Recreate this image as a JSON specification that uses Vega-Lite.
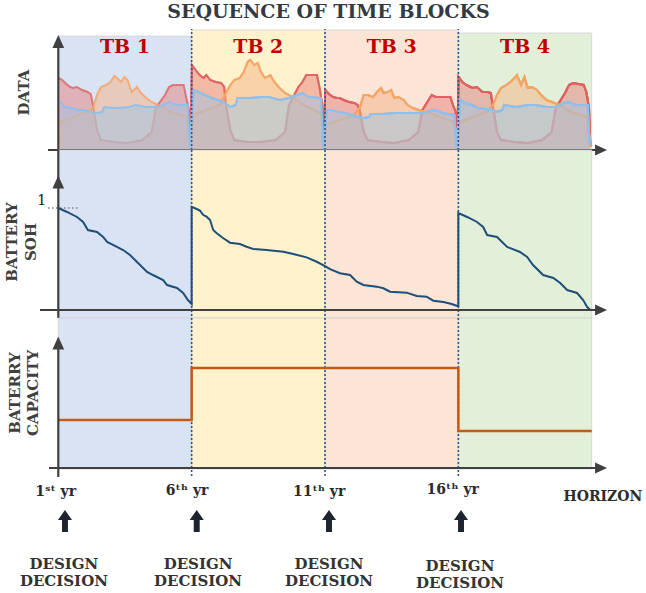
{
"$schema":"https://vega.github.io/schema/vega-lite/v6.json",
"padding":0,
"spacing":0,
"bounds":"flush",
"background":"white",
"config":{"view":{"stroke":null},"text":{"font":"DejaVu Serif","fontWeight":"bold"}},
"datasets":{
"blocks":[{"tb":"TB 1","x":1,"x2":6,"top":114},{"tb":"TB 2","x":6,"x2":11,"top":120},{"tb":"TB 3","x":11,"x2":16,"top":120},{"tb":"TB 4","x":16,"x2":21,"top":117}],
"dec":[{"x":6},{"x":11},{"x":16}],
"red":[
{"b":1,"x":1.01,"v":72},{"b":1,"x":1.15,"v":70},{"b":1,"x":1.3,"v":66},{"b":1,"x":1.45,"v":63},{"b":1,"x":1.55,"v":62},{"b":1,"x":1.7,"v":63},{"b":1,"x":1.9,"v":60},{"b":1,"x":2.1,"v":58},{"b":1,"x":2.22,"v":56},{"b":1,"x":2.3,"v":45},{"b":1,"x":2.45,"v":20},{"b":1,"x":2.6,"v":10},{"b":1,"x":3.1,"v":8},{"b":1,"x":3.6,"v":7},{"b":1,"x":4.15,"v":10},{"b":1,"x":4.5,"v":18},{"b":1,"x":4.65,"v":42},{"b":1,"x":5.0,"v":55},{"b":1,"x":5.15,"v":63},{"b":1,"x":5.3,"v":65},{"b":1,"x":5.7,"v":65},{"b":1,"x":5.8,"v":52},{"b":1,"x":5.9,"v":40},{"b":1,"x":5.95,"v":3},
{"b":2,"x":6.01,"v":85},{"b":2,"x":6.15,"v":80},{"b":2,"x":6.3,"v":75},{"b":2,"x":6.45,"v":72},{"b":2,"x":6.55,"v":75},{"b":2,"x":6.7,"v":70},{"b":2,"x":6.9,"v":68},{"b":2,"x":7.1,"v":67},{"b":2,"x":7.22,"v":63},{"b":2,"x":7.3,"v":42},{"b":2,"x":7.45,"v":20},{"b":2,"x":7.6,"v":10},{"b":2,"x":8.1,"v":8},{"b":2,"x":8.6,"v":8},{"b":2,"x":9.15,"v":10},{"b":2,"x":9.5,"v":18},{"b":2,"x":9.65,"v":45},{"b":2,"x":10.0,"v":63},{"b":2,"x":10.15,"v":68},{"b":2,"x":10.3,"v":75},{"b":2,"x":10.7,"v":75},{"b":2,"x":10.8,"v":62},{"b":2,"x":10.9,"v":45},{"b":2,"x":10.95,"v":3},
{"b":3,"x":11.01,"v":60},{"b":3,"x":11.15,"v":56},{"b":3,"x":11.3,"v":53},{"b":3,"x":11.45,"v":52},{"b":3,"x":11.55,"v":52},{"b":3,"x":11.7,"v":50},{"b":3,"x":11.9,"v":48},{"b":3,"x":12.1,"v":47},{"b":3,"x":12.22,"v":45},{"b":3,"x":12.3,"v":40},{"b":3,"x":12.45,"v":18},{"b":3,"x":12.6,"v":10},{"b":3,"x":13.1,"v":8},{"b":3,"x":13.6,"v":7},{"b":3,"x":14.15,"v":10},{"b":3,"x":14.5,"v":18},{"b":3,"x":14.65,"v":40},{"b":3,"x":15.0,"v":55},{"b":3,"x":15.15,"v":53},{"b":3,"x":15.3,"v":53},{"b":3,"x":15.7,"v":53},{"b":3,"x":15.8,"v":45},{"b":3,"x":15.9,"v":38},{"b":3,"x":15.95,"v":3},
{"b":4,"x":16.01,"v":73},{"b":4,"x":16.15,"v":68},{"b":4,"x":16.3,"v":65},{"b":4,"x":16.45,"v":63},{"b":4,"x":16.55,"v":62},{"b":4,"x":16.7,"v":63},{"b":4,"x":16.9,"v":58},{"b":4,"x":17.1,"v":58},{"b":4,"x":17.22,"v":57},{"b":4,"x":17.3,"v":42},{"b":4,"x":17.45,"v":18},{"b":4,"x":17.6,"v":10},{"b":4,"x":18.1,"v":8},{"b":4,"x":18.6,"v":7},{"b":4,"x":19.15,"v":10},{"b":4,"x":19.5,"v":18},{"b":4,"x":19.65,"v":42},{"b":4,"x":20.0,"v":57},{"b":4,"x":20.15,"v":65},{"b":4,"x":20.3,"v":67},{"b":4,"x":20.7,"v":65},{"b":4,"x":20.8,"v":58},{"b":4,"x":20.9,"v":42},{"b":4,"x":20.95,"v":3}],
"orange":[
{"b":1,"x":1.05,"v":28},{"b":1,"x":1.55,"v":33},{"b":1,"x":2.05,"v":38},{"b":1,"x":2.3,"v":42},{"b":1,"x":2.45,"v":55},{"b":1,"x":2.6,"v":63},{"b":1,"x":2.8,"v":65},{"b":1,"x":2.95,"v":68},{"b":1,"x":3.1,"v":74},{"b":1,"x":3.2,"v":72},{"b":1,"x":3.35,"v":68},{"b":1,"x":3.48,"v":73},{"b":1,"x":3.6,"v":70},{"b":1,"x":3.75,"v":58},{"b":1,"x":3.95,"v":63},{"b":1,"x":4.1,"v":57},{"b":1,"x":4.3,"v":52},{"b":1,"x":4.5,"v":48},{"b":1,"x":4.8,"v":44},{"b":1,"x":5.2,"v":38},{"b":1,"x":5.6,"v":35},{"b":1,"x":5.85,"v":32},{"b":1,"x":5.95,"v":3},
{"b":2,"x":6.05,"v":35},{"b":2,"x":6.55,"v":40},{"b":2,"x":7.05,"v":45},{"b":2,"x":7.3,"v":58},{"b":2,"x":7.45,"v":65},{"b":2,"x":7.6,"v":70},{"b":2,"x":7.8,"v":72},{"b":2,"x":7.95,"v":78},{"b":2,"x":8.1,"v":88},{"b":2,"x":8.2,"v":90},{"b":2,"x":8.35,"v":85},{"b":2,"x":8.48,"v":87},{"b":2,"x":8.6,"v":78},{"b":2,"x":8.75,"v":72},{"b":2,"x":8.95,"v":75},{"b":2,"x":9.1,"v":68},{"b":2,"x":9.3,"v":62},{"b":2,"x":9.5,"v":57},{"b":2,"x":9.8,"v":53},{"b":2,"x":10.2,"v":45},{"b":2,"x":10.6,"v":40},{"b":2,"x":10.85,"v":36},{"b":2,"x":10.95,"v":3},
{"b":3,"x":11.05,"v":25},{"b":3,"x":11.55,"v":30},{"b":3,"x":12.05,"v":34},{"b":3,"x":12.3,"v":42},{"b":3,"x":12.45,"v":55},{"b":3,"x":12.6,"v":55},{"b":3,"x":12.8,"v":53},{"b":3,"x":12.95,"v":58},{"b":3,"x":13.1,"v":62},{"b":3,"x":13.2,"v":57},{"b":3,"x":13.35,"v":58},{"b":3,"x":13.48,"v":60},{"b":3,"x":13.6,"v":52},{"b":3,"x":13.75,"v":53},{"b":3,"x":13.95,"v":50},{"b":3,"x":14.1,"v":45},{"b":3,"x":14.3,"v":42},{"b":3,"x":14.5,"v":40},{"b":3,"x":14.8,"v":38},{"b":3,"x":15.2,"v":34},{"b":3,"x":15.6,"v":30},{"b":3,"x":15.85,"v":28},{"b":3,"x":15.95,"v":3},
{"b":4,"x":16.05,"v":28},{"b":4,"x":16.55,"v":33},{"b":4,"x":17.05,"v":38},{"b":4,"x":17.3,"v":45},{"b":4,"x":17.45,"v":55},{"b":4,"x":17.6,"v":62},{"b":4,"x":17.8,"v":65},{"b":4,"x":17.95,"v":68},{"b":4,"x":18.1,"v":72},{"b":4,"x":18.2,"v":75},{"b":4,"x":18.35,"v":65},{"b":4,"x":18.48,"v":73},{"b":4,"x":18.6,"v":62},{"b":4,"x":18.75,"v":63},{"b":4,"x":18.95,"v":60},{"b":4,"x":19.1,"v":55},{"b":4,"x":19.3,"v":50},{"b":4,"x":19.5,"v":48},{"b":4,"x":19.8,"v":45},{"b":4,"x":20.2,"v":38},{"b":4,"x":20.6,"v":35},{"b":4,"x":20.85,"v":32},{"b":4,"x":20.95,"v":3}],
"blue":[
{"b":1,"x":1.08,"v":48},{"b":1,"x":1.25,"v":43},{"b":1,"x":1.5,"v":42},{"b":1,"x":1.75,"v":40},{"b":1,"x":2.0,"v":40},{"b":1,"x":2.25,"v":38},{"b":1,"x":2.45,"v":37},{"b":1,"x":2.65,"v":38},{"b":1,"x":2.72,"v":43},{"b":1,"x":3.15,"v":42},{"b":1,"x":3.65,"v":43},{"b":1,"x":3.9,"v":45},{"b":1,"x":4.3,"v":43},{"b":1,"x":4.65,"v":43},{"b":1,"x":4.95,"v":45},{"b":1,"x":5.15,"v":48},{"b":1,"x":5.4,"v":45},{"b":1,"x":5.85,"v":45},{"b":1,"x":5.92,"v":5},
{"b":2,"x":6.08,"v":60},{"b":2,"x":6.25,"v":58},{"b":2,"x":6.5,"v":55},{"b":2,"x":6.75,"v":52},{"b":2,"x":7.0,"v":50},{"b":2,"x":7.25,"v":47},{"b":2,"x":7.45,"v":43},{"b":2,"x":7.65,"v":45},{"b":2,"x":7.72,"v":52},{"b":2,"x":8.15,"v":52},{"b":2,"x":8.65,"v":53},{"b":2,"x":8.9,"v":53},{"b":2,"x":9.3,"v":50},{"b":2,"x":9.65,"v":52},{"b":2,"x":9.95,"v":55},{"b":2,"x":10.15,"v":57},{"b":2,"x":10.4,"v":53},{"b":2,"x":10.85,"v":52},{"b":2,"x":10.92,"v":5},
{"b":3,"x":11.08,"v":40},{"b":3,"x":11.25,"v":40},{"b":3,"x":11.5,"v":38},{"b":3,"x":11.75,"v":37},{"b":3,"x":12.0,"v":35},{"b":3,"x":12.25,"v":33},{"b":3,"x":12.45,"v":32},{"b":3,"x":12.65,"v":33},{"b":3,"x":12.72,"v":36},{"b":3,"x":13.15,"v":36},{"b":3,"x":13.65,"v":37},{"b":3,"x":13.9,"v":37},{"b":3,"x":14.3,"v":37},{"b":3,"x":14.65,"v":37},{"b":3,"x":14.95,"v":39},{"b":3,"x":15.15,"v":40},{"b":3,"x":15.4,"v":37},{"b":3,"x":15.85,"v":35},{"b":3,"x":15.92,"v":5},
{"b":4,"x":16.08,"v":50},{"b":4,"x":16.25,"v":47},{"b":4,"x":16.5,"v":45},{"b":4,"x":16.75,"v":42},{"b":4,"x":17.0,"v":41},{"b":4,"x":17.25,"v":40},{"b":4,"x":17.45,"v":38},{"b":4,"x":17.65,"v":40},{"b":4,"x":17.72,"v":45},{"b":4,"x":18.15,"v":43},{"b":4,"x":18.65,"v":45},{"b":4,"x":18.9,"v":45},{"b":4,"x":19.3,"v":43},{"b":4,"x":19.65,"v":43},{"b":4,"x":19.95,"v":47},{"b":4,"x":20.15,"v":48},{"b":4,"x":20.4,"v":45},{"b":4,"x":20.85,"v":45},{"b":4,"x":20.92,"v":5}],
"soh":[
{"i":1,"x":1.0,"y":1.0},{"i":2,"x":1.33,"y":0.961},{"i":3,"x":1.7,"y":0.912},{"i":4,"x":1.93,"y":0.863},{"i":5,"x":2.11,"y":0.784},{"i":6,"x":2.45,"y":0.765},{"i":7,"x":2.68,"y":0.716},{"i":8,"x":2.83,"y":0.667},{"i":9,"x":3.2,"y":0.618},{"i":10,"x":3.43,"y":0.588},{"i":11,"x":3.69,"y":0.539},{"i":12,"x":3.95,"y":0.471},{"i":13,"x":4.33,"y":0.373},{"i":14,"x":4.55,"y":0.343},{"i":15,"x":4.93,"y":0.294},{"i":16,"x":5.08,"y":0.245},{"i":17,"x":5.45,"y":0.216},{"i":18,"x":5.68,"y":0.167},{"i":19,"x":5.86,"y":0.098},{"i":20,"x":6.0,"y":0.059},
{"i":21,"x":6.0,"y":1.01},{"i":22,"x":6.06,"y":1.005},{"i":23,"x":6.19,"y":0.99},{"i":24,"x":6.31,"y":0.975},{"i":25,"x":6.44,"y":0.931},{"i":26,"x":6.56,"y":0.915},{"i":27,"x":6.69,"y":0.882},{"i":28,"x":6.81,"y":0.784},{"i":29,"x":6.94,"y":0.752},{"i":30,"x":7.19,"y":0.703},{"i":31,"x":7.44,"y":0.66},{"i":32,"x":7.81,"y":0.647},{"i":33,"x":8.06,"y":0.62},{"i":34,"x":8.31,"y":0.598},{"i":35,"x":8.81,"y":0.588},{"i":36,"x":9.44,"y":0.571},{"i":37,"x":9.81,"y":0.549},{"i":38,"x":10.31,"y":0.516},{"i":39,"x":10.69,"y":0.473},{"i":40,"x":11.0,"y":0.43},{"i":41,"x":11.19,"y":0.4},{"i":42,"x":11.56,"y":0.36},{"i":43,"x":11.94,"y":0.343},{"i":44,"x":12.19,"y":0.277},{"i":45,"x":12.44,"y":0.245},{"i":46,"x":12.94,"y":0.229},{"i":47,"x":13.19,"y":0.213},{"i":48,"x":13.44,"y":0.18},{"i":49,"x":14.06,"y":0.17},{"i":50,"x":14.44,"y":0.137},{"i":51,"x":14.81,"y":0.131},{"i":52,"x":15.06,"y":0.091},{"i":53,"x":15.44,"y":0.078},{"i":54,"x":15.75,"y":0.059},{"i":55,"x":15.96,"y":0.039},{"i":56,"x":16.0,"y":0.039},
{"i":57,"x":16.0,"y":0.951},{"i":58,"x":16.33,"y":0.912},{"i":59,"x":16.7,"y":0.863},{"i":60,"x":16.93,"y":0.814},{"i":61,"x":17.08,"y":0.735},{"i":62,"x":17.45,"y":0.716},{"i":63,"x":17.83,"y":0.618},{"i":64,"x":18.31,"y":0.569},{"i":65,"x":18.58,"y":0.52},{"i":66,"x":18.8,"y":0.441},{"i":67,"x":19.18,"y":0.343},{"i":68,"x":19.56,"y":0.314},{"i":69,"x":19.82,"y":0.265},{"i":70,"x":20.08,"y":0.196},{"i":71,"x":20.45,"y":0.167},{"i":72,"x":20.68,"y":0.098},{"i":73,"x":20.83,"y":0.029},{"i":74,"x":20.95,"y":0.0}],
"cap":[{"x":1,"y":48},{"x":6,"y":100},{"x":16,"y":37},{"x":21,"y":37}]
},
"vconcat":[
{"width":646,"height":150,"layer":[
{"data":{"name":"blocks"},"mark":{"type":"rect","stroke":"#d0d0d0","strokeWidth":0.8},"encoding":{
"x":{"field":"x","type":"quantitative","scale":{"domain":[-1.186,23.036],"nice":false,"zero":false},"axis":null},
"x2":{"field":"x2"},
"y":{"field":"top","type":"quantitative","scale":{"domain":[0,150],"nice":false,"zero":false},"axis":null},
"y2":{"datum":0},
"color":{"field":"tb","type":"nominal","scale":{"domain":["TB 1","TB 2","TB 3","TB 4"],"range":["#dae3f3","#fff2cc","#fbe5d6","#e2f0d9"]},"legend":null}}},
{"data":{"name":"red"},"mark":{"type":"area","color":"#e57373","fillOpacity":0.45,"line":{"color":"#e06060","strokeWidth":2,"opacity":0.8}},"encoding":{
"x":{"field":"x","type":"quantitative","scale":{"domain":[-1.186,23.036],"nice":false,"zero":false},"axis":null},
"y":{"field":"v","type":"quantitative","scale":{"domain":[0,150],"nice":false,"zero":false},"axis":null},
"detail":{"field":"b"}}},
{"data":{"name":"orange"},"mark":{"type":"area","color":"#f4b183","fillOpacity":0.5,"line":{"color":"#f4a466","strokeWidth":2,"opacity":0.85}},"encoding":{
"x":{"field":"x","type":"quantitative","scale":{"domain":[-1.186,23.036],"nice":false,"zero":false},"axis":null},
"y":{"field":"v","type":"quantitative","scale":{"domain":[0,150],"nice":false,"zero":false},"axis":null},
"detail":{"field":"b"}}},
{"data":{"name":"blue"},"mark":{"type":"area","color":"#9dc3e6","fillOpacity":0.5,"line":{"color":"#8fbfea","strokeWidth":2,"opacity":0.95}},"encoding":{
"x":{"field":"x","type":"quantitative","scale":{"domain":[-1.186,23.036],"nice":false,"zero":false},"axis":null},
"y":{"field":"v","type":"quantitative","scale":{"domain":[0,150],"nice":false,"zero":false},"axis":null},
"detail":{"field":"b"}}},
{"data":{"name":"dec"},"mark":{"type":"rule","color":"#2f5597","strokeWidth":1.6,"strokeDash":[2,2]},"encoding":{
"x":{"field":"x","type":"quantitative","scale":{"domain":[-1.186,23.036],"nice":false,"zero":false},"axis":null},
"y":{"datum":0,"type":"quantitative","scale":{"domain":[0,150],"nice":false,"zero":false},"axis":null},
"y2":{"datum":121}}},
{"data":{"values":[{"x":1,"x2":1,"y":0,"y2":108.5},{"x":0.614,"x2":21.35,"y":0,"y2":0}]},"mark":{"type":"rule","color":"#404040","strokeWidth":2.2},"encoding":{
"x":{"field":"x","type":"quantitative","scale":{"domain":[-1.186,23.036],"nice":false,"zero":false},"axis":null},
"x2":{"field":"x2"},
"y":{"field":"y","type":"quantitative","scale":{"domain":[0,150],"nice":false,"zero":false},"axis":null},
"y2":{"field":"y2"}}},
{"data":{"values":[{"x":1,"y":108.5}]},"mark":{"type":"point","filled":true,"color":"#404040","opacity":1,"size":169,"shape":"M0,-1L0.9,1L-0.9,1Z","strokeWidth":0},"encoding":{
"x":{"field":"x","type":"quantitative","scale":{"domain":[-1.186,23.036],"nice":false,"zero":false},"axis":null},
"y":{"field":"y","type":"quantitative","scale":{"domain":[0,150],"nice":false,"zero":false},"axis":null}}},
{"data":{"values":[{"x":21.35,"y":0}]},"mark":{"type":"point","filled":true,"color":"#404040","opacity":1,"size":144,"shape":"M1,0L-1,-0.9L-1,0.9Z","strokeWidth":0},"encoding":{
"x":{"field":"x","type":"quantitative","scale":{"domain":[-1.186,23.036],"nice":false,"zero":false},"axis":null},
"y":{"field":"y","type":"quantitative","scale":{"domain":[0,150],"nice":false,"zero":false},"axis":null}}},
{"data":{"values":[{"x":11.13,"y":138,"t":"SEQUENCE OF TIME BLOCKS"}]},"mark":{"type":"text","fontSize":19,"color":"#333a44","align":"center","baseline":"middle"},"encoding":{
"x":{"field":"x","type":"quantitative","scale":{"domain":[-1.186,23.036],"nice":false,"zero":false},"axis":null},
"y":{"field":"y","type":"quantitative","scale":{"domain":[0,150],"nice":false,"zero":false},"axis":null},
"text":{"field":"t"}}},
{"data":{"values":[{"x":3.5,"y":103,"t":"TB 1"},{"x":8.5,"y":103,"t":"TB 2"},{"x":13.5,"y":103,"t":"TB 3"},{"x":18.5,"y":103,"t":"TB 4"}]},"mark":{"type":"text","fontSize":19,"color":"#c00000","align":"center","baseline":"middle"},"encoding":{
"x":{"field":"x","type":"quantitative","scale":{"domain":[-1.186,23.036],"nice":false,"zero":false},"axis":null},
"y":{"field":"y","type":"quantitative","scale":{"domain":[0,150],"nice":false,"zero":false},"axis":null},
"text":{"field":"t"}}},
{"data":{"values":[{"x":-0.28,"y":57.5,"t":"DATA"}]},"mark":{"type":"text","fontSize":15,"color":"#404040","align":"center","baseline":"middle","angle":270},"encoding":{
"x":{"field":"x","type":"quantitative","scale":{"domain":[-1.186,23.036],"nice":false,"zero":false},"axis":null},
"y":{"field":"y","type":"quantitative","scale":{"domain":[0,150],"nice":false,"zero":false},"axis":null},
"text":{"field":"t"}}}
]},
{"width":646,"height":168,"layer":[
{"data":{"name":"blocks"},"mark":{"type":"rect","stroke":"#d0d0d0","strokeWidth":0.8},"encoding":{
"x":{"field":"x","type":"quantitative","scale":{"domain":[-1.186,23.036],"nice":false,"zero":false},"axis":null},
"x2":{"field":"x2"},
"color":{"field":"tb","type":"nominal","scale":{"domain":["TB 1","TB 2","TB 3","TB 4"],"range":["#dae3f3","#fff2cc","#fbe5d6","#e2f0d9"]},"legend":null}}},
{"data":{"name":"dec"},"mark":{"type":"rule","color":"#2f5597","strokeWidth":1.6,"strokeDash":[2,2]},"encoding":{
"x":{"field":"x","type":"quantitative","scale":{"domain":[-1.186,23.036],"nice":false,"zero":false},"axis":null}}},
{"data":{"values":[{"x":0.614,"x2":1.814,"y":1}]},"mark":{"type":"rule","color":"#808080","strokeWidth":1.5,"strokeDash":[1.5,2.5]},"encoding":{
"x":{"field":"x","type":"quantitative","scale":{"domain":[-1.186,23.036],"nice":false,"zero":false},"axis":null},
"x2":{"field":"x2"},
"y":{"field":"y","type":"quantitative","scale":{"domain":[-0.0784,1.5686],"nice":false,"zero":false},"axis":null}}},
{"data":{"name":"soh"},"mark":{"type":"line","color":"#1f4e79","strokeWidth":2},"encoding":{
"x":{"field":"x","type":"quantitative","scale":{"domain":[-1.186,23.036],"nice":false,"zero":false},"axis":null},
"y":{"field":"y","type":"quantitative","scale":{"domain":[-0.0784,1.5686],"nice":false,"zero":false},"axis":null},
"order":{"field":"i","type":"quantitative"}}},
{"data":{"values":[{"x":1,"x2":1,"y":-0.0784,"y2":1.5686},{"x":0.314,"x2":21.35,"y":0,"y2":0}]},"mark":{"type":"rule","color":"#404040","strokeWidth":2.2},"encoding":{
"x":{"field":"x","type":"quantitative","scale":{"domain":[-1.186,23.036],"nice":false,"zero":false},"axis":null},
"x2":{"field":"x2"},
"y":{"field":"y","type":"quantitative","scale":{"domain":[-0.0784,1.5686],"nice":false,"zero":false},"axis":null},
"y2":{"field":"y2"}}},
{"data":{"values":[{"x":1,"y":1.255}]},"mark":{"type":"point","filled":true,"color":"#404040","opacity":1,"size":169,"shape":"M0,-1L0.9,1L-0.9,1Z","strokeWidth":0},"encoding":{
"x":{"field":"x","type":"quantitative","scale":{"domain":[-1.186,23.036],"nice":false,"zero":false},"axis":null},
"y":{"field":"y","type":"quantitative","scale":{"domain":[-0.0784,1.5686],"nice":false,"zero":false},"axis":null}}},
{"data":{"values":[{"x":21.35,"y":0}]},"mark":{"type":"point","filled":true,"color":"#404040","opacity":1,"size":144,"shape":"M1,0L-1,-0.9L-1,0.9Z","strokeWidth":0},"encoding":{
"x":{"field":"x","type":"quantitative","scale":{"domain":[-1.186,23.036],"nice":false,"zero":false},"axis":null},
"y":{"field":"y","type":"quantitative","scale":{"domain":[-0.0784,1.5686],"nice":false,"zero":false},"axis":null}}},
{"data":{"values":[{"x":0.377,"y":1.069,"t":"1"}]},"mark":{"type":"text","fontSize":14,"fontWeight":"normal","color":"#111111","align":"center","baseline":"middle"},"encoding":{
"x":{"field":"x","type":"quantitative","scale":{"domain":[-1.186,23.036],"nice":false,"zero":false},"axis":null},
"y":{"field":"y","type":"quantitative","scale":{"domain":[-0.0784,1.5686],"nice":false,"zero":false},"axis":null},
"text":{"field":"t"}}},
{"data":{"values":[{"x":-0.72,"y":0.667,"t":"BATTERY"},{"x":-0.02,"y":0.667,"t":"SOH"}]},"mark":{"type":"text","fontSize":15,"color":"#404040","align":"center","baseline":"middle","angle":270},"encoding":{
"x":{"field":"x","type":"quantitative","scale":{"domain":[-1.186,23.036],"nice":false,"zero":false},"axis":null},
"y":{"field":"y","type":"quantitative","scale":{"domain":[-0.0784,1.5686],"nice":false,"zero":false},"axis":null},
"text":{"field":"t"}}}
]},
{"width":646,"height":160,"layer":[
{"data":{"name":"blocks"},"mark":{"type":"rect","stroke":"#d0d0d0","strokeWidth":0.8},"encoding":{
"x":{"field":"x","type":"quantitative","scale":{"domain":[-1.186,23.036],"nice":false,"zero":false},"axis":null},
"x2":{"field":"x2"},
"y":{"datum":-1,"type":"quantitative","scale":{"domain":[-10,150],"nice":false,"zero":false},"axis":null},
"y2":{"datum":150},
"color":{"field":"tb","type":"nominal","scale":{"domain":["TB 1","TB 2","TB 3","TB 4"],"range":["#dae3f3","#fff2cc","#fbe5d6","#e2f0d9"]},"legend":null}}},
{"data":{"name":"dec"},"mark":{"type":"rule","color":"#2f5597","strokeWidth":1.6,"strokeDash":[2,2]},"encoding":{
"x":{"field":"x","type":"quantitative","scale":{"domain":[-1.186,23.036],"nice":false,"zero":false},"axis":null},
"y":{"datum":-8,"type":"quantitative","scale":{"domain":[-10,150],"nice":false,"zero":false},"axis":null},
"y2":{"datum":150}}},
{"data":{"name":"cap"},"mark":{"type":"line","color":"#c55a11","strokeWidth":2.5,"interpolate":"step-after"},"encoding":{
"x":{"field":"x","type":"quantitative","scale":{"domain":[-1.186,23.036],"nice":false,"zero":false},"axis":null},
"y":{"field":"y","type":"quantitative","scale":{"domain":[-10,150],"nice":false,"zero":false},"axis":null}}},
{"data":{"values":[{"x":1,"x2":1,"y":-9,"y2":125},{"x":0.651,"x2":21.35,"y":0,"y2":0}]},"mark":{"type":"rule","color":"#404040","strokeWidth":2.2},"encoding":{
"x":{"field":"x","type":"quantitative","scale":{"domain":[-1.186,23.036],"nice":false,"zero":false},"axis":null},
"x2":{"field":"x2"},
"y":{"field":"y","type":"quantitative","scale":{"domain":[-10,150],"nice":false,"zero":false},"axis":null},
"y2":{"field":"y2"}}},
{"data":{"values":[{"x":1,"y":125}]},"mark":{"type":"point","filled":true,"color":"#404040","opacity":1,"size":169,"shape":"M0,-1L0.9,1L-0.9,1Z","strokeWidth":0},"encoding":{
"x":{"field":"x","type":"quantitative","scale":{"domain":[-1.186,23.036],"nice":false,"zero":false},"axis":null},
"y":{"field":"y","type":"quantitative","scale":{"domain":[-10,150],"nice":false,"zero":false},"axis":null}}},
{"data":{"values":[{"x":21.35,"y":0}]},"mark":{"type":"point","filled":true,"color":"#404040","opacity":1,"size":144,"shape":"M1,0L-1,-0.9L-1,0.9Z","strokeWidth":0},"encoding":{
"x":{"field":"x","type":"quantitative","scale":{"domain":[-1.186,23.036],"nice":false,"zero":false},"axis":null},
"y":{"field":"y","type":"quantitative","scale":{"domain":[-10,150],"nice":false,"zero":false},"axis":null}}},
{"data":{"values":[{"x":-0.62,"y":75,"t":"BATERRY"},{"x":0.05,"y":75,"t":"CAPACITY"}]},"mark":{"type":"text","fontSize":15,"color":"#404040","align":"center","baseline":"middle","angle":270},"encoding":{
"x":{"field":"x","type":"quantitative","scale":{"domain":[-1.186,23.036],"nice":false,"zero":false},"axis":null},
"y":{"field":"y","type":"quantitative","scale":{"domain":[-10,150],"nice":false,"zero":false},"axis":null},
"text":{"field":"t"}}}
]},
{"width":646,"height":115,"layer":[
{"data":{"values":[{"x":0.9,"y":14,"t":"1ˢᵗ yr"},{"x":5.83,"y":13,"t":"6ᵗʰ yr"},{"x":10.78,"y":14,"t":"11ᵗʰ yr"},{"x":15.79,"y":12,"t":"16ᵗʰ yr"},{"x":21.42,"y":19,"t":"HORIZON"}]},"mark":{"type":"text","fontSize":14,"color":"#2b2b2b","align":"center","baseline":"middle"},"encoding":{
"x":{"field":"x","type":"quantitative","scale":{"domain":[-1.186,23.036],"nice":false,"zero":false},"axis":null},
"y":{"field":"y","type":"quantitative","scale":{"domain":[0,115],"nice":false,"zero":false,"reverse":true},"axis":null},
"text":{"field":"t"}}},
{"data":{"values":[{"x":1.25,"y":43},{"x":6.19,"y":43},{"x":11.15,"y":43},{"x":16.1,"y":43}]},"mark":{"type":"point","filled":true,"color":"#1e2530","opacity":1,"size":484,"shape":"M0,-1L0.64,-0.09L0.27,-0.09L0.27,1L-0.27,1L-0.27,-0.09L-0.64,-0.09Z","strokeWidth":0},"encoding":{
"x":{"field":"x","type":"quantitative","scale":{"domain":[-1.186,23.036],"nice":false,"zero":false},"axis":null},
"y":{"field":"y","type":"quantitative","scale":{"domain":[0,115],"nice":false,"zero":false,"reverse":true},"axis":null}}},
{"data":{"values":[{"x":1.21,"y":86,"t":"DESIGN"},{"x":1.21,"y":103,"t":"DECISION"},{"x":6.24,"y":86,"t":"DESIGN"},{"x":6.24,"y":103,"t":"DECISION"},{"x":11.15,"y":86,"t":"DESIGN"},{"x":11.15,"y":103,"t":"DECISION"},{"x":16.06,"y":88,"t":"DESIGN"},{"x":16.06,"y":105,"t":"DECISION"}]},"mark":{"type":"text","fontSize":15,"color":"#333333","align":"center","baseline":"middle"},"encoding":{
"x":{"field":"x","type":"quantitative","scale":{"domain":[-1.186,23.036],"nice":false,"zero":false},"axis":null},
"y":{"field":"y","type":"quantitative","scale":{"domain":[0,115],"nice":false,"zero":false,"reverse":true},"axis":null},
"text":{"field":"t"}}}
]}
]
}
